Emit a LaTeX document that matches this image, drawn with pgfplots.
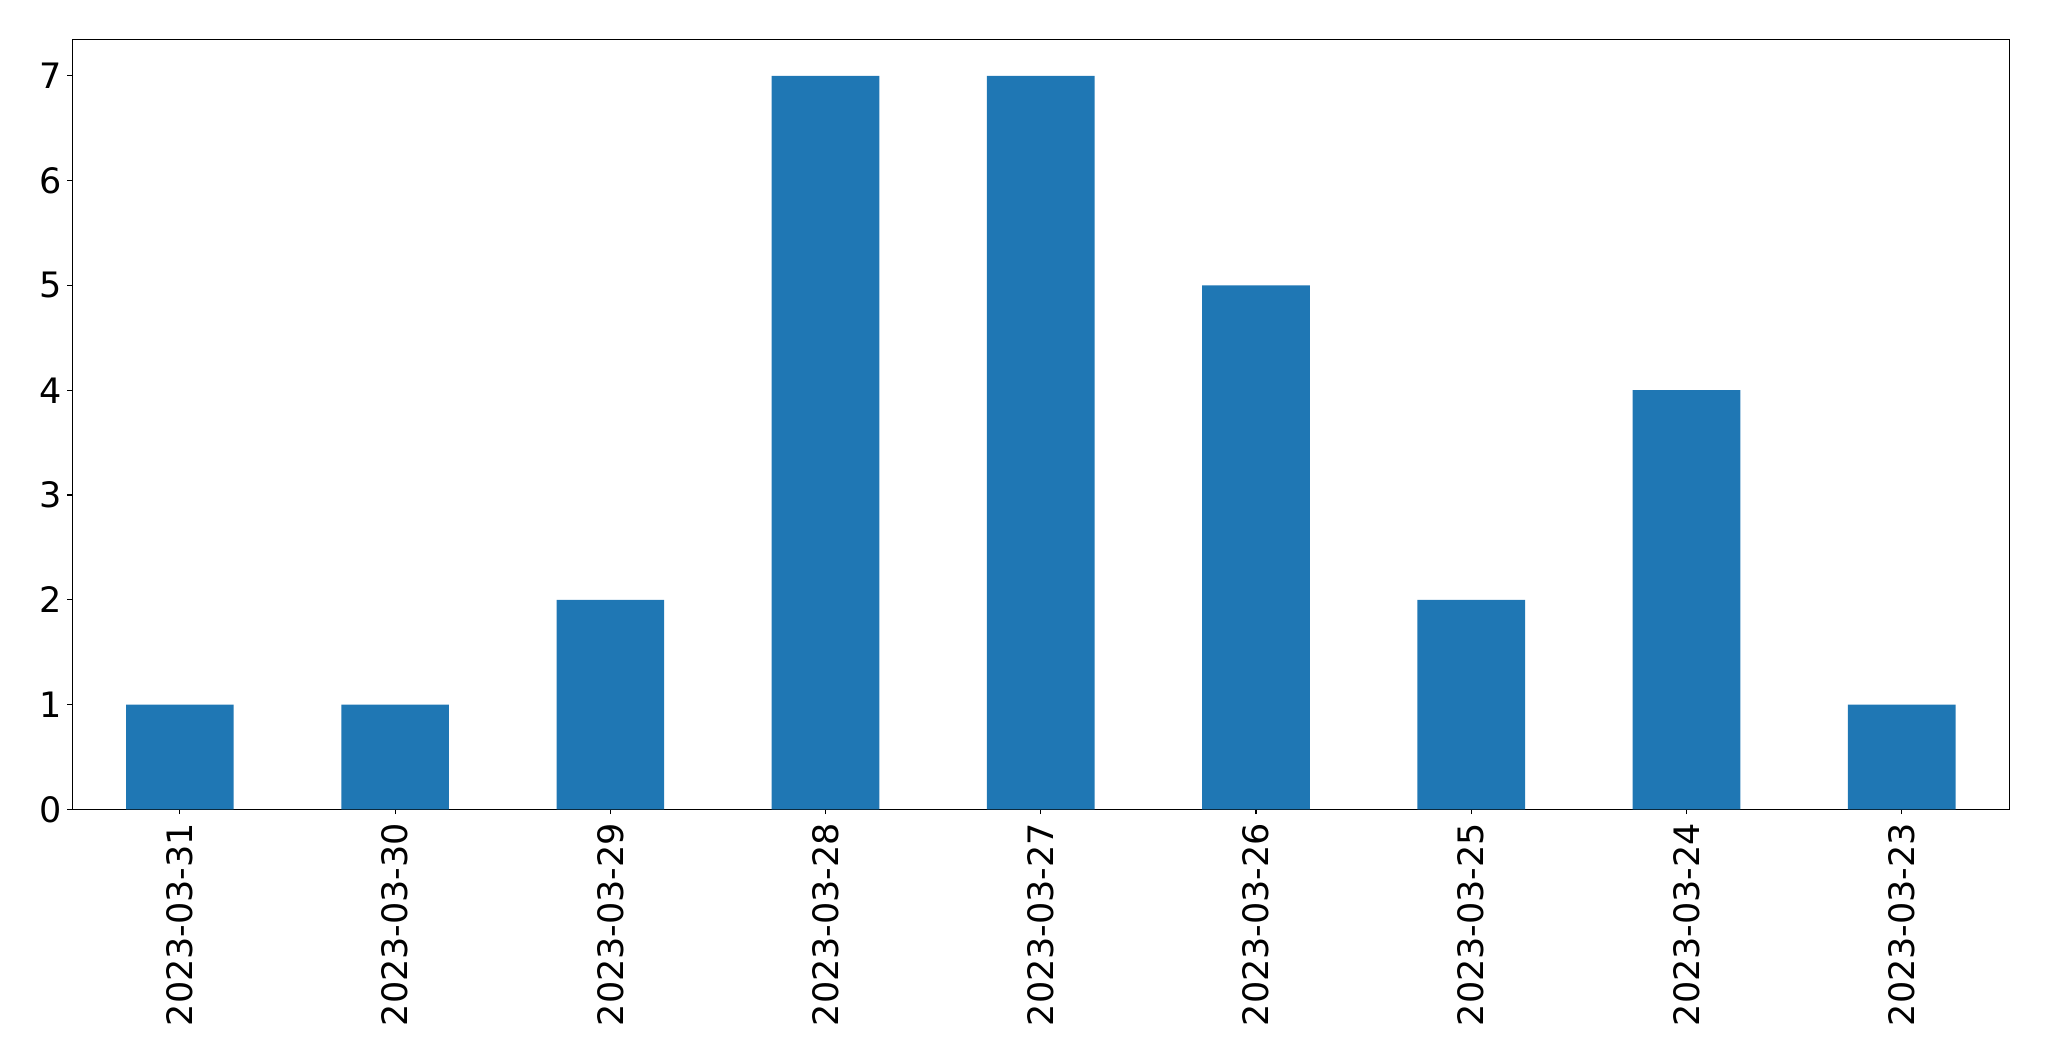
\documentclass[border=0pt]{standalone}
\usepackage{pgfplots}
\pgfplotsset{compat=1.18}
\usepackage{fontspec}
\setmainfont{DejaVu Sans}
\definecolor{barblue}{HTML}{1F77B4}
\begin{document}
\begin{tikzpicture}
\begin{axis}[
  scale only axis,
  width=1394.6pt, height=554.4pt,
  xmin=-0.5, xmax=8.5, ymin=0, ymax=7.35,
  axis line style={line width=0.8pt},
  xtick=data,
  xticklabels={2023-03-31,2023-03-30,2023-03-29,2023-03-28,2023-03-27,2023-03-26,2023-03-25,2023-03-24,2023-03-23},
  ytick={0,1,2,3,4,5,6,7},
  tick align=outside,
  xtick pos=left, ytick pos=left,
  major tick length=3.5pt,
  tick style={black, line width=0.8pt},
  /pgf/number format/assume math mode=true,
  ticklabel style={font=\fontsize{25.2}{30}\selectfont},
  xticklabel style={rotate=90, anchor=east, inner xsep=6pt, inner ysep=0pt},
  yticklabel style={anchor=east, inner xsep=4pt, inner ysep=0pt},
  clip=false,
]
\addplot[ybar, bar width=0.5, fill=barblue, draw=none] coordinates {
(0,1) (1,1) (2,2) (3,7) (4,7) (5,5) (6,2) (7,4) (8,1)};
\coordinate (bl) at (rel axis cs:-0.0373,-0.3273);
\coordinate (tr) at (rel axis cs:1.0205,1.051);
\end{axis}
\pgfresetboundingbox
\path[use as bounding box] (bl) rectangle (tr);
\end{tikzpicture}
\end{document}
